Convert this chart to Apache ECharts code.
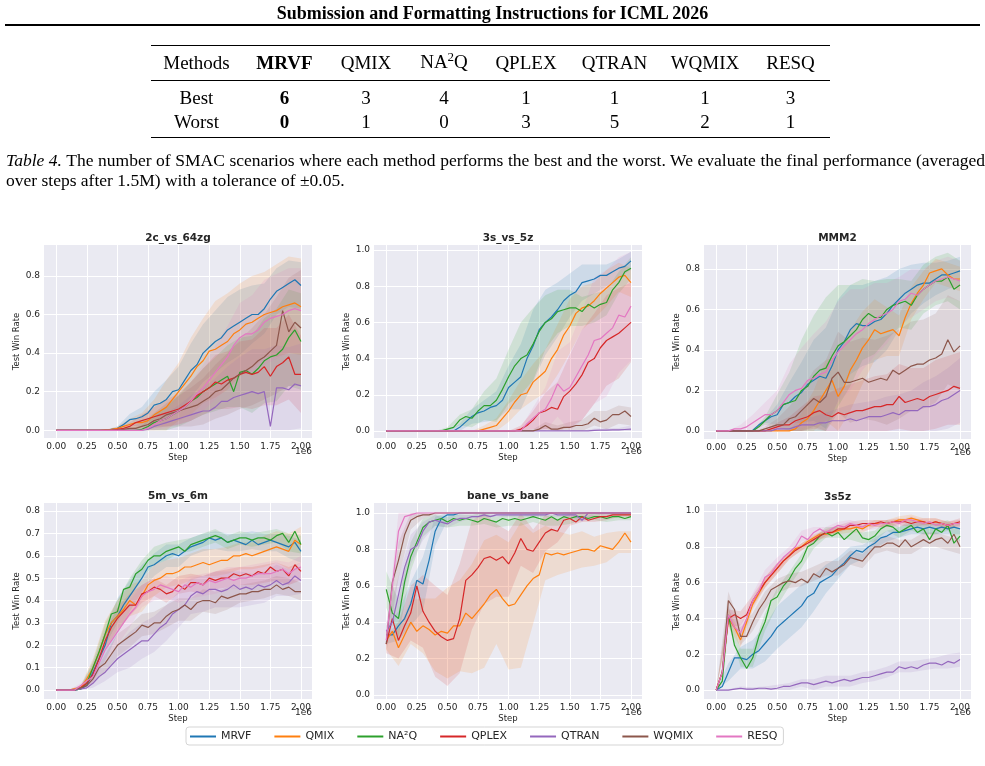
<!DOCTYPE html>
<html lang="en">
<head>
<meta charset="UTF-8">
<title>SMAC results</title>
<script src="https://cdn.jsdelivr.net/npm/echarts@6/dist/echarts.min.js"></script>
<style>
  body{margin:0;background:#fff;}
  .page{position:relative;width:985px;height:766px;overflow:hidden;font-family:"Liberation Serif","Times New Roman",serif;color:#000;}
  #main{position:absolute;left:0;top:0;width:985px;height:766px;}
  .head{position:absolute;left:0;top:3px;width:985px;text-align:center;font-weight:bold;font-size:18px;line-height:20px;}
  .rule{position:absolute;background:#000;}
  table{position:absolute;left:151px;top:45px;border-collapse:collapse;font-size:19px;}
  td{padding:0;text-align:center;}
  tr.h td{height:35px;line-height:34px;}
  tr.b td{height:23px;line-height:23px;padding-top:5px;}
  tr.w td{height:23px;line-height:23px;padding-top:1px;padding-bottom:6px;}
  .sup{font-size:13px;position:relative;top:-7px;}
  .cap{position:absolute;left:6px;top:150px;width:979px;font-size:17.5px;line-height:20px;}
  .cap .l1{text-align:justify;text-align-last:justify;white-space:nowrap;word-spacing:-1.5px;}
</style>
</head>
<body>
<div class="page">
  <div id="main"></div>
  <div class="head">Submission and Formatting Instructions for ICML 2026</div>
  <div class="rule" style="left:5px;top:24px;width:975px;height:2px;"></div>

  <div class="rule" style="left:151px;top:45px;width:679px;height:1.3px;"></div>
  <div class="rule" style="left:151px;top:80px;width:679px;height:0.8px;"></div>
  <div class="rule" style="left:151px;top:137px;width:679px;height:1.3px;"></div>
  <table>
    <colgroup>
      <col style="width:91px"><col style="width:85px"><col style="width:78px"><col style="width:78px">
      <col style="width:86px"><col style="width:91px"><col style="width:90px"><col style="width:81px">
    </colgroup>
    <tr class="h"><td>Methods</td><td><b>MRVF</b></td><td>QMIX</td><td>NA<span class="sup">2</span>Q</td><td>QPLEX</td><td>QTRAN</td><td>WQMIX</td><td>RESQ</td></tr>
    <tr class="b"><td>Best</td><td><b>6</b></td><td>3</td><td>4</td><td>1</td><td>1</td><td>1</td><td>3</td></tr>
    <tr class="w"><td>Worst</td><td><b>0</b></td><td>1</td><td>0</td><td>3</td><td>5</td><td>2</td><td>1</td></tr>
  </table>

  <div class="cap">
    <div class="l1"><i>Table 4.</i> The number of SMAC scenarios where each method performs the best and the worst. We evaluate the final performance (averaged</div>
    <div>over steps after 1.5M) with a tolerance of ±0.05.</div>
  </div>
</div>

<script>
    // methods, colours (tab10)
    var methods = ['MRVF', 'QMIX', 'NA²Q', 'QPLEX', 'QTRAN', 'WQMIX', 'RESQ'];
    var colors = ['#1f77b4', '#ff7f0e', '#2ca02c', '#d62728', '#9467bd', '#8c564b', '#e377c2'];

    // x values, in units of 1e6 steps
    var steps = [0, 0.05, 0.1, 0.15, 0.2, 0.25, 0.3, 0.35, 0.4, 0.45, 0.5, 0.55, 0.6, 0.65, 0.7, 0.75, 0.8, 0.85, 0.9, 0.95,
                 1, 1.05, 1.1, 1.15, 1.2, 1.25, 1.3, 1.35, 1.4, 1.45, 1.5, 1.55, 1.6, 1.65, 1.7, 1.75, 1.8, 1.85, 1.9, 1.95, 2];
    var bandSteps = [0, 0.1, 0.2, 0.3, 0.4, 0.5, 0.6, 0.7, 0.8, 0.9, 1, 1.1, 1.2, 1.3, 1.4, 1.5, 1.6, 1.7, 1.8, 1.9, 2];
    var xTicks = [0, 0.25, 0.5, 0.75, 1, 1.25, 1.5, 1.75, 2];

    var scenarios = ['2c_vs_64zg', '3s_vs_5z', 'MMM2', '5m_vs_6m', 'bane_vs_bane', '3s5z'];
    var yTicks_2c_vs_64zg = [0, 0.2, 0.4, 0.6, 0.8];
    var yTicks_3s_vs_5z = [0, 0.2, 0.4, 0.6, 0.8, 1.0];
    var yTicks_MMM2 = [0, 0.2, 0.4, 0.6, 0.8];
    var yTicks_5m_vs_6m = [0, 0.1, 0.2, 0.3, 0.4, 0.5, 0.6, 0.7, 0.8];
    var yTicks_bane_vs_bane = [0, 0.2, 0.4, 0.6, 0.8, 1.0];
    var yTicks_3s5z = [0, 0.2, 0.4, 0.6, 0.8, 1.0];

    // mean test win rate, one row per method (order as in `methods`)
    var win_2c_vs_64zg = [
        [0,0,0,0,0,0,0,0,0,0.005,0.01,0.03,0.055,0.06,0.07,0.09,0.13,0.14,0.16,0.2,0.21,0.26,0.31,0.34,0.4,0.43,0.46,0.48,0.52,0.54,0.56,0.58,0.6,0.6,0.63,0.68,0.72,0.74,0.76,0.78,0.75],
        [0,0,0,0,0,0,0,0,0.003,0.005,0.01,0.02,0.03,0.04,0.04,0.05,0.08,0.1,0.12,0.16,0.2,0.24,0.28,0.33,0.36,0.41,0.42,0.44,0.46,0.5,0.52,0.55,0.56,0.58,0.6,0.61,0.62,0.64,0.65,0.66,0.64],
        [0,0,0,0,0,0,0,0,0,0,0,0,0,0,0.005,0.02,0.04,0.05,0.06,0.08,0.1,0.12,0.15,0.17,0.2,0.22,0.24,0.26,0.28,0.2,0.3,0.31,0.29,0.32,0.36,0.38,0.39,0.42,0.48,0.52,0.46],
        [0,0,0,0,0,0,0,0,0,0,0.005,0.01,0.02,0.04,0.05,0.06,0.07,0.08,0.09,0.1,0.11,0.13,0.15,0.18,0.2,0.22,0.25,0.24,0.26,0.27,0.29,0.3,0.29,0.3,0.33,0.28,0.33,0.35,0.38,0.29,0.29],
        [0,0,0,0,0,0,0,0,0,0,0,0,0,0,0,0.005,0.02,0.03,0.04,0.05,0.06,0.07,0.08,0.09,0.1,0.1,0.12,0.15,0.15,0.17,0.18,0.19,0.2,0.19,0.2,0.02,0.22,0.22,0.21,0.24,0.23],
        [0,0,0,0,0,0,0,0,0,0,0,0.005,0.01,0.01,0.02,0.03,0.05,0.06,0.08,0.09,0.1,0.11,0.12,0.13,0.15,0.17,0.2,0.21,0.24,0.27,0.29,0.31,0.33,0.36,0.38,0.41,0.44,0.62,0.51,0.56,0.53],
        [0,0,0,0,0,0,0,0,0,0,0,0,0,0,0,0.01,0.03,0.05,0.06,0.08,0.1,0.12,0.15,0.19,0.22,0.26,0.3,0.34,0.38,0.44,0.48,0.5,0.5,0.52,0.56,0.58,0.59,0.6,0.62,0.63,0.62]
    ];
    var win_3s_vs_5z = [
        [0,0,0,0,0,0,0,0,0,0,0,0,0.02,0.05,0.08,0.1,0.11,0.13,0.14,0.17,0.24,0.27,0.3,0.4,0.47,0.56,0.6,0.63,0.67,0.72,0.75,0.77,0.82,0.83,0.84,0.86,0.86,0.88,0.9,0.91,0.94],
        [0,0,0,0,0,0,0,0,0,0,0,0,0,0,0,0,0.01,0.02,0.03,0.07,0.11,0.16,0.2,0.21,0.27,0.3,0.33,0.4,0.45,0.53,0.58,0.65,0.68,0.69,0.72,0.76,0.79,0.82,0.85,0.86,0.82],
        [0,0,0,0,0,0,0,0,0,0,0.01,0.02,0.06,0.08,0.07,0.11,0.14,0.14,0.17,0.23,0.3,0.36,0.4,0.42,0.48,0.55,0.6,0.62,0.66,0.67,0.68,0.68,0.66,0.7,0.68,0.7,0.71,0.78,0.82,0.88,0.9],
        [0,0,0,0,0,0,0,0,0,0,0,0,0,0,0,0,0,0,0,0,0,0,0.01,0.03,0.06,0.1,0.11,0.13,0.12,0.19,0.22,0.26,0.31,0.38,0.4,0.46,0.5,0.52,0.54,0.57,0.6],
        [0,0,0,0,0,0,0,0,0,0,0,0,0,0,0,0,0,0,0,0,0,0,0,0,0,0,0,0,0,0,0,0,0,0,0.003,0.004,0.005,0.006,0.006,0.008,0.01],
        [0,0,0,0,0,0,0,0,0,0,0,0,0,0,0,0,0,0,0,0,0,0,0,0,0,0.01,0.03,0.01,0.01,0.02,0.02,0.03,0.03,0.04,0.07,0.05,0.06,0.09,0.09,0.11,0.08],
        [0,0,0,0,0,0,0,0,0,0,0,0,0,0,0,0,0,0,0,0,0,0,0,0.04,0.07,0.1,0.12,0.18,0.26,0.22,0.24,0.3,0.36,0.42,0.5,0.51,0.54,0.57,0.64,0.63,0.69]
    ];
    var win_MMM2 = [
        [0,0,0,0,0,0,0.003,0.03,0.05,0.07,0.08,0.13,0.14,0.17,0.19,0.23,0.25,0.27,0.26,0.32,0.4,0.44,0.5,0.53,0.52,0.52,0.54,0.55,0.58,0.62,0.65,0.68,0.7,0.72,0.73,0.73,0.75,0.77,0.77,0.78,0.79],
        [0,0,0,0,0,0,0,0,0,0,0,0,0,0.01,0.04,0.06,0.1,0.15,0.2,0.25,0.17,0.22,0.3,0.35,0.41,0.45,0.5,0.48,0.49,0.5,0.47,0.56,0.63,0.68,0.72,0.78,0.79,0.8,0.77,0.75,0.75],
        [0,0,0,0,0,0,0,0.02,0.05,0.08,0.1,0.13,0.14,0.15,0.2,0.22,0.27,0.3,0.31,0.37,0.42,0.44,0.47,0.5,0.55,0.58,0.56,0.56,0.6,0.62,0.63,0.64,0.62,0.67,0.7,0.72,0.74,0.74,0.76,0.7,0.72],
        [0,0,0,0,0,0,0,0,0,0.01,0.02,0.03,0.03,0.05,0.06,0.07,0.09,0.1,0.08,0.07,0.09,0.08,0.09,0.1,0.1,0.11,0.12,0.12,0.13,0.13,0.17,0.14,0.15,0.16,0.15,0.17,0.18,0.19,0.2,0.22,0.21],
        [0,0,0,0,0,0,0,0,0,0,0.01,0.01,0.01,0.02,0.03,0.03,0.03,0.04,0.04,0.05,0.05,0.05,0.06,0.05,0.06,0.07,0.07,0.07,0.08,0.09,0.08,0.1,0.1,0.1,0.12,0.12,0.13,0.15,0.16,0.18,0.2],
        [0,0,0,0,0,0,0,0,0.01,0.02,0.03,0.03,0.06,0.07,0.1,0.13,0.16,0.14,0.17,0.26,0.29,0.24,0.24,0.25,0.26,0.24,0.25,0.26,0.25,0.3,0.28,0.3,0.32,0.33,0.33,0.35,0.36,0.38,0.45,0.39,0.42],
        [0,0,0,0.01,0.01,0.02,0.04,0.06,0.08,0.08,0.1,0.14,0.18,0.2,0.21,0.25,0.26,0.28,0.29,0.35,0.39,0.42,0.45,0.48,0.5,0.53,0.55,0.57,0.58,0.6,0.64,0.65,0.68,0.67,0.7,0.72,0.74,0.75,0.76,0.75,0.74]
    ];
    var win_5m_vs_6m = [
        [0,0,0,0,0.005,0.02,0.08,0.14,0.2,0.3,0.33,0.38,0.42,0.46,0.5,0.55,0.56,0.58,0.6,0.61,0.6,0.62,0.64,0.65,0.66,0.68,0.67,0.68,0.66,0.67,0.66,0.65,0.67,0.65,0.66,0.67,0.66,0.65,0.64,0.66,0.62],
        [0,0,0,0.005,0.01,0.05,0.1,0.17,0.25,0.3,0.33,0.36,0.4,0.38,0.42,0.47,0.49,0.5,0.52,0.52,0.53,0.55,0.55,0.56,0.57,0.56,0.57,0.58,0.58,0.6,0.6,0.61,0.6,0.61,0.62,0.63,0.64,0.63,0.62,0.67,0.65],
        [0,0,0,0,0.005,0.03,0.1,0.17,0.25,0.34,0.35,0.45,0.46,0.52,0.54,0.58,0.6,0.6,0.62,0.63,0.64,0.62,0.65,0.66,0.67,0.68,0.69,0.68,0.66,0.67,0.68,0.68,0.67,0.68,0.68,0.67,0.69,0.7,0.66,0.71,0.65],
        [0,0,0,0,0.01,0.03,0.07,0.14,0.22,0.28,0.32,0.35,0.38,0.38,0.43,0.44,0.46,0.45,0.43,0.44,0.47,0.45,0.48,0.48,0.47,0.5,0.49,0.5,0.5,0.52,0.51,0.52,0.51,0.53,0.52,0.55,0.53,0.54,0.51,0.56,0.53],
        [0,0,0,0,0.005,0.01,0.03,0.06,0.08,0.11,0.14,0.16,0.18,0.2,0.22,0.22,0.25,0.28,0.3,0.34,0.36,0.38,0.42,0.44,0.43,0.45,0.45,0.44,0.45,0.47,0.45,0.46,0.45,0.47,0.46,0.47,0.49,0.47,0.48,0.51,0.49],
        [0,0,0,0,0.01,0.02,0.05,0.1,0.12,0.16,0.2,0.22,0.24,0.26,0.29,0.28,0.3,0.3,0.33,0.35,0.36,0.38,0.36,0.39,0.4,0.4,0.39,0.42,0.41,0.42,0.43,0.43,0.44,0.44,0.45,0.45,0.47,0.45,0.46,0.44,0.44],
        [0,0,0,0,0.02,0.04,0.06,0.12,0.18,0.22,0.26,0.3,0.34,0.37,0.42,0.44,0.45,0.47,0.46,0.45,0.44,0.47,0.46,0.48,0.47,0.49,0.48,0.49,0.5,0.49,0.5,0.5,0.51,0.52,0.52,0.52,0.53,0.54,0.52,0.54,0.55]
    ];
    var win_bane_vs_bane = [
        [0.33,0.33,0.38,0.42,0.5,0.63,0.61,0.74,0.9,0.97,0.99,0.99,1,1,1,1,1,1,1,1,1,1,1,1,1,1,1,1,1,1,1,1,1,1,1,1,1,1,1,1,1],
        [0.3,0.35,0.26,0.33,0.4,0.35,0.38,0.36,0.33,0.35,0.34,0.38,0.38,0.45,0.42,0.46,0.5,0.55,0.58,0.53,0.49,0.5,0.55,0.6,0.64,0.66,0.78,0.77,0.78,0.77,0.78,0.79,0.8,0.8,0.79,0.82,0.81,0.8,0.84,0.89,0.84],
        [0.58,0.45,0.42,0.62,0.76,0.84,0.92,0.95,0.96,0.97,0.95,0.97,0.96,0.97,0.96,0.95,0.97,0.96,0.95,0.97,0.96,0.97,0.96,0.97,0.98,0.97,0.96,0.98,0.96,0.98,0.97,0.98,0.98,0.97,0.98,0.98,0.97,0.98,0.98,0.97,0.98],
        [0.28,0.42,0.3,0.38,0.45,0.6,0.46,0.4,0.35,0.32,0.3,0.31,0.42,0.63,0.66,0.7,0.75,0.76,0.74,0.76,0.72,0.78,0.86,0.8,0.79,0.84,0.89,0.91,0.9,0.96,0.97,0.95,0.98,0.96,0.97,0.98,0.98,0.99,0.99,0.99,0.99],
        [0.35,0.4,0.55,0.7,0.8,0.82,0.9,0.95,0.96,0.95,0.94,0.96,0.97,0.97,0.98,0.98,0.99,0.98,0.99,0.99,0.99,0.99,0.99,0.99,0.99,0.99,0.99,1,0.99,0.99,0.99,0.99,0.96,1,1,1,1,1,1,1,1],
        [0.28,0.62,0.74,0.88,0.96,0.98,0.99,0.99,1,1,1,1,1,1,1,1,1,1,1,1,1,1,1,1,1,1,1,1,1,1,1,1,1,1,1,1,1,1,1,1,1],
        [0.3,0.6,0.9,0.98,0.99,1,1,1,1,1,1,1,1,1,1,1,1,1,1,1,1,1,1,1,1,1,1,1,1,1,1,1,1,1,1,1,1,1,1,1,1]
    ];
    var win_3s5z = [
        [0,0.02,0.1,0.18,0.18,0.17,0.2,0.22,0.26,0.3,0.35,0.38,0.41,0.44,0.47,0.52,0.54,0.6,0.62,0.64,0.68,0.71,0.75,0.78,0.77,0.8,0.82,0.85,0.86,0.88,0.88,0.89,0.9,0.91,0.9,0.91,0.9,0.91,0.9,0.91,0.9],
        [0,0.1,0.4,0.35,0.28,0.38,0.48,0.54,0.6,0.64,0.68,0.72,0.75,0.79,0.8,0.83,0.85,0.87,0.87,0.88,0.89,0.9,0.9,0.91,0.9,0.92,0.93,0.93,0.93,0.94,0.95,0.95,0.96,0.95,0.94,0.93,0.94,0.93,0.92,0.93,0.93],
        [0,0.05,0.42,0.25,0.18,0.12,0.18,0.3,0.38,0.5,0.52,0.58,0.62,0.68,0.72,0.8,0.82,0.86,0.88,0.86,0.88,0.84,0.87,0.9,0.85,0.84,0.86,0.9,0.92,0.91,0.88,0.9,0.92,0.88,0.9,0.84,0.9,0.88,0.92,0.82,0.86],
        [0,0.1,0.4,0.42,0.4,0.42,0.5,0.55,0.6,0.64,0.68,0.72,0.75,0.78,0.8,0.82,0.84,0.86,0.88,0.88,0.9,0.9,0.92,0.92,0.93,0.93,0.93,0.94,0.93,0.94,0.94,0.94,0.93,0.94,0.94,0.93,0.94,0.93,0.92,0.93,0.94],
        [0,0,0,0.005,0.01,0.005,0.005,0.01,0.01,0.005,0.01,0.02,0.02,0.03,0.04,0.04,0.03,0.04,0.05,0.04,0.05,0.06,0.05,0.06,0.07,0.07,0.08,0.09,0.1,0.1,0.13,0.12,0.13,0.12,0.14,0.15,0.15,0.14,0.16,0.15,0.17],
        [0,0.1,0.5,0.45,0.3,0.3,0.38,0.45,0.5,0.56,0.58,0.6,0.61,0.6,0.62,0.6,0.65,0.63,0.68,0.66,0.68,0.7,0.74,0.73,0.72,0.76,0.8,0.8,0.82,0.82,0.8,0.84,0.8,0.82,0.84,0.82,0.84,0.85,0.82,0.87,0.8],
        [0,0.1,0.42,0.35,0.32,0.4,0.5,0.55,0.63,0.65,0.7,0.74,0.77,0.8,0.86,0.84,0.88,0.9,0.88,0.9,0.92,0.91,0.93,0.92,0.91,0.93,0.92,0.93,0.93,0.94,0.93,0.95,0.95,0.94,0.93,0.94,0.92,0.93,0.92,0.93,0.93]
    ];

    // half-width of the shaded band, sampled at bandSteps
    var spread_2c_vs_64zg = [
        [0,0,0,0,0,0.01,0.03,0.05,0.07,0.1,0.12,0.14,0.15,0.16,0.17,0.17,0.15,0.13,0.12,0.12,0.12],
        [0,0,0,0,0,0.01,0.03,0.05,0.08,0.14,0.15,0.2,0.22,0.25,0.25,0.24,0.24,0.22,0.24,0.25,0.25],
        [0,0,0,0,0,0,0.01,0.02,0.04,0.06,0.08,0.1,0.12,0.14,0.16,0.18,0.2,0.22,0.24,0.25,0.25],
        [0,0,0,0,0,0.01,0.02,0.03,0.05,0.07,0.08,0.1,0.12,0.14,0.15,0.17,0.18,0.2,0.2,0.22,0.2],
        [0,0,0,0,0,0,0,0.01,0.03,0.05,0.07,0.1,0.12,0.15,0.18,0.2,0.22,0.22,0.22,0.22,0.22],
        [0,0,0,0,0,0,0.01,0.02,0.04,0.06,0.08,0.1,0.12,0.14,0.16,0.18,0.2,0.22,0.25,0.28,0.3],
        [0,0,0,0,0,0,0,0.01,0.03,0.05,0.07,0.1,0.12,0.14,0.16,0.18,0.2,0.22,0.22,0.22,0.22]
    ];
    var spread_3s_vs_5z = [
        [0,0,0,0,0,0,0.02,0.04,0.06,0.08,0.12,0.18,0.2,0.18,0.15,0.12,0.1,0.08,0.06,0.05,0.05],
        [0,0,0,0,0,0,0,0,0.02,0.04,0.06,0.08,0.1,0.12,0.14,0.15,0.12,0.1,0.1,0.08,0.08],
        [0,0,0,0,0,0.01,0.03,0.05,0.08,0.12,0.15,0.2,0.2,0.15,0.12,0.1,0.08,0.08,0.07,0.06,0.06],
        [0,0,0,0,0,0,0,0,0,0,0,0.02,0.05,0.1,0.15,0.2,0.25,0.25,0.25,0.25,0.22],
        [0,0,0,0,0,0,0,0,0,0,0,0,0,0,0,0,0,0.01,0.01,0.01,0.02],
        [0,0,0,0,0,0,0,0,0,0,0,0,0.01,0.02,0.02,0.03,0.03,0.04,0.05,0.05,0.05],
        [0,0,0,0,0,0,0,0,0,0,0,0.02,0.06,0.12,0.18,0.25,0.3,0.35,0.35,0.32,0.3]
    ];
    var spread_MMM2 = [
        [0,0,0,0,0.01,0.05,0.1,0.15,0.2,0.25,0.25,0.22,0.2,0.2,0.18,0.15,0.12,0.1,0.08,0.07,0.07],
        [0,0,0,0,0,0,0,0.05,0.1,0.15,0.2,0.2,0.18,0.15,0.12,0.1,0.08,0.07,0.06,0.06,0.06],
        [0,0,0,0,0.02,0.08,0.15,0.25,0.3,0.35,0.3,0.25,0.2,0.18,0.15,0.12,0.12,0.12,0.12,0.12,0.12],
        [0,0,0,0,0,0.02,0.04,0.06,0.08,0.1,0.12,0.14,0.15,0.15,0.15,0.16,0.16,0.16,0.17,0.17,0.18],
        [0,0,0,0,0,0.01,0.02,0.03,0.04,0.05,0.06,0.07,0.08,0.08,0.09,0.1,0.1,0.12,0.14,0.15,0.16],
        [0,0,0,0,0.01,0.03,0.06,0.1,0.14,0.18,0.2,0.2,0.2,0.2,0.22,0.22,0.22,0.22,0.22,0.22,0.22],
        [0,0,0.02,0.04,0.06,0.1,0.15,0.2,0.22,0.25,0.25,0.25,0.2,0.18,0.15,0.12,0.12,0.1,0.1,0.1,0.1]
    ];
    var spread_5m_vs_6m = [
        [0,0,0.01,0.04,0.07,0.08,0.07,0.06,0.05,0.05,0.05,0.04,0.04,0.04,0.04,0.04,0.04,0.04,0.04,0.05,0.05],
        [0,0,0.01,0.04,0.06,0.07,0.07,0.07,0.07,0.06,0.06,0.06,0.06,0.06,0.06,0.06,0.06,0.07,0.07,0.08,0.08],
        [0,0,0.01,0.03,0.05,0.05,0.04,0.04,0.04,0.04,0.03,0.03,0.03,0.03,0.03,0.03,0.03,0.03,0.03,0.04,0.04],
        [0,0,0.01,0.02,0.04,0.05,0.05,0.04,0.04,0.04,0.04,0.04,0.04,0.04,0.04,0.04,0.04,0.04,0.04,0.04,0.04],
        [0,0,0.01,0.02,0.04,0.06,0.08,0.08,0.08,0.08,0.08,0.08,0.08,0.08,0.08,0.08,0.07,0.07,0.07,0.06,0.06],
        [0,0,0.01,0.02,0.04,0.05,0.05,0.05,0.05,0.05,0.05,0.05,0.05,0.05,0.05,0.04,0.04,0.04,0.04,0.04,0.04],
        [0,0,0.01,0.03,0.05,0.06,0.06,0.05,0.05,0.05,0.05,0.05,0.05,0.05,0.05,0.05,0.05,0.05,0.05,0.05,0.05]
    ];
    var spread_bane_vs_bane = [
        [0.05,0.08,0.12,0.15,0.08,0.03,0.01,0,0,0,0,0,0,0,0,0,0,0,0,0,0],
        [0.05,0.1,0.12,0.15,0.2,0.25,0.25,0.3,0.35,0.3,0.35,0.4,0.25,0.15,0.12,0.1,0.1,0.08,0.08,0.06,0.06],
        [0.1,0.1,0.08,0.05,0.03,0.03,0.03,0.03,0.03,0.03,0.03,0.03,0.03,0.03,0.03,0.03,0.02,0.02,0.02,0.02,0.02],
        [0.05,0.1,0.15,0.2,0.25,0.25,0.3,0.3,0.25,0.2,0.18,0.15,0.12,0.1,0.06,0.04,0.03,0.02,0.02,0.01,0.01],
        [0.05,0.1,0.08,0.05,0.03,0.02,0.02,0.01,0.01,0.01,0.01,0.01,0.01,0.01,0.01,0.01,0.01,0.01,0.01,0.01,0.01],
        [0.05,0.1,0.05,0.02,0.01,0,0,0,0,0,0,0,0,0,0,0,0,0,0,0,0],
        [0.05,0.1,0.02,0,0,0,0,0,0,0,0,0,0,0,0,0,0,0,0,0,0]
    ];
    var spread_3s5z = [
        [0,0.05,0.06,0.08,0.1,0.12,0.12,0.12,0.1,0.08,0.06,0.05,0.04,0.03,0.03,0.03,0.03,0.03,0.03,0.03,0.03],
        [0,0.05,0.04,0.03,0.03,0.03,0.02,0.02,0.02,0.02,0.02,0.02,0.02,0.02,0.02,0.02,0.02,0.02,0.02,0.02,0.02],
        [0,0.05,0.05,0.05,0.05,0.05,0.04,0.04,0.03,0.03,0.03,0.03,0.03,0.03,0.03,0.03,0.03,0.03,0.03,0.03,0.03],
        [0,0.05,0.04,0.03,0.03,0.03,0.02,0.02,0.02,0.02,0.02,0.02,0.02,0.02,0.02,0.02,0.02,0.02,0.02,0.02,0.02],
        [0,0.005,0.01,0.01,0.01,0.02,0.02,0.02,0.03,0.03,0.03,0.03,0.03,0.03,0.03,0.03,0.03,0.03,0.03,0.04,0.04],
        [0,0.05,0.05,0.05,0.05,0.04,0.04,0.04,0.04,0.04,0.04,0.04,0.04,0.04,0.04,0.04,0.04,0.04,0.04,0.04,0.04],
        [0,0.05,0.04,0.04,0.04,0.04,0.03,0.03,0.03,0.03,0.02,0.02,0.02,0.02,0.02,0.02,0.02,0.02,0.02,0.02,0.02]
    ];

    // panel layout (pixels on the page) and axis ranges
    var panels = [
        {mean: win_2c_vs_64zg, spread: spread_2c_vs_64zg, yTicks: yTicks_2c_vs_64zg, ymin: -0.04, ymax: 0.96, left: 44, top: 245, width: 268, height: 193},
        {mean: win_3s_vs_5z, spread: spread_3s_vs_5z, yTicks: yTicks_3s_vs_5z, ymin: -0.039, ymax: 1.028, left: 374, top: 245, width: 268, height: 193},
        {mean: win_MMM2, spread: spread_MMM2, yTicks: yTicks_MMM2, ymin: -0.04, ymax: 0.918, left: 704, top: 245, width: 267, height: 194},
        {mean: win_5m_vs_6m, spread: spread_5m_vs_6m, yTicks: yTicks_5m_vs_6m, ymin: -0.04, ymax: 0.836, left: 44, top: 503, width: 268, height: 196},
        {mean: win_bane_vs_bane, spread: spread_bane_vs_bane, yTicks: yTicks_bane_vs_bane, ymin: -0.022, ymax: 1.055, left: 374, top: 503, width: 268, height: 196},
        {mean: win_3s5z, spread: spread_3s5z, yTicks: yTicks_3s5z, ymin: -0.05, ymax: 1.039, left: 704, top: 504, width: 267, height: 195}
    ];

    var FONT = 'DejaVu Sans';
    var TXT = '#262626';
    var grids = [], xAxes = [], yAxes = [], series = [], graphics = [];

    panels.forEach(function (pn, p) {
        grids.push({
            left: pn.left, top: pn.top, width: pn.width, height: pn.height,
            show: true, backgroundColor: '#eaeaf2', borderWidth: 0, outerBoundsMode: 'none'
        });
        xAxes.push({
            gridIndex: p, type: 'value', min: -0.1, max: 2.09,
            axisLine: {show: false},
            axisTick: {show: false, customValues: xTicks},
            axisLabel: {customValues: xTicks, formatter: function (v) { return v.toFixed(2); },
                        fontFamily: FONT, fontSize: 9, color: TXT, margin: 4},
            splitLine: {show: true, lineStyle: {color: '#ffffff', width: 1}},
            name: 'Step', nameLocation: 'middle', nameGap: 15,
            nameTextStyle: {fontFamily: FONT, fontSize: 8.5, color: TXT}
        });
        yAxes.push({
            gridIndex: p, type: 'value', min: pn.ymin, max: pn.ymax,
            axisLine: {show: false},
            axisTick: {show: false, customValues: pn.yTicks},
            axisLabel: {customValues: pn.yTicks, formatter: function (v) { return v.toFixed(1); },
                        fontFamily: FONT, fontSize: 9, color: TXT, margin: 4},
            splitLine: {show: true, lineStyle: {color: '#ffffff', width: 1}},
            name: 'Test Win Rate', nameLocation: 'middle', nameGap: 22, nameRotate: 90,
            nameTextStyle: {fontFamily: FONT, fontSize: 8.5, color: TXT}
        });

        // shaded bands first, then the mean lines
        pn.mean.forEach(function (m, k) {
            var s = pn.spread[k];
            var pts = bandSteps.map(function (x, i) {
                var c = m[2 * i];
                return [x, Math.max(0, c - s[i]), Math.min(1, c + s[i])];
            });
            series.push({
                type: 'custom', xAxisIndex: p, yAxisIndex: p, silent: true, z: 1, clip: true,
                data: pts, encode: {x: 0, y: [1, 2]},
                renderItem: function (params, api) {
                    if (params.dataIndex !== 0) return null;
                    var up = pts.map(function (d) { return api.coord([d[0], d[2]]); });
                    var lo = pts.map(function (d) { return api.coord([d[0], d[1]]); }).reverse();
                    return {type: 'polygon', shape: {points: up.concat(lo)},
                            style: {fill: colors[k], opacity: 0.14}};
                }
            });
        });
        pn.mean.forEach(function (m, k) {
            series.push({
                type: 'line', name: methods[k], xAxisIndex: p, yAxisIndex: p, z: 3, silent: true,
                data: steps.map(function (x, i) { return [x, m[i]]; }),
                showSymbol: false, symbol: 'none',
                lineStyle: {width: 1.2, color: colors[k]},
                itemStyle: {color: colors[k]}
            });
        });

        graphics.push({
            type: 'text', x: pn.left + pn.width / 2, y: pn.top - 7,
            style: {text: scenarios[p], font: 'bold 10.5px "DejaVu Sans"', fill: TXT,
                    textAlign: 'center', textVerticalAlign: 'middle', align: 'center', verticalAlign: 'middle'}
        });
        graphics.push({
            type: 'text', x: pn.left + pn.width, y: pn.top + pn.height + 14,
            style: {text: '1e6', font: '9px "DejaVu Sans"', fill: TXT,
                    textAlign: 'right', textVerticalAlign: 'middle', align: 'right', verticalAlign: 'middle'}
        });
    });

    var myChart = echarts.init(document.getElementById('main'));
    myChart.setOption({
        animation: false,
        backgroundColor: '#ffffff',
        grid: grids,
        xAxis: xAxes,
        yAxis: yAxes,
        legend: {
            data: methods.map(function (n) { return {name: n, icon: 'rect'}; }),
            left: 186, top: 727,
            itemWidth: 26, itemHeight: 2, itemGap: 23,
            padding: [4, 6, 3, 4],
            borderColor: '#d5d5d5', borderWidth: 1, borderRadius: 3,
            backgroundColor: '#ffffff', selectedMode: false,
            textStyle: {fontFamily: FONT, fontSize: 11, color: TXT}
        },
        graphic: graphics,
        series: series
    });
</script>
</body>
</html>
